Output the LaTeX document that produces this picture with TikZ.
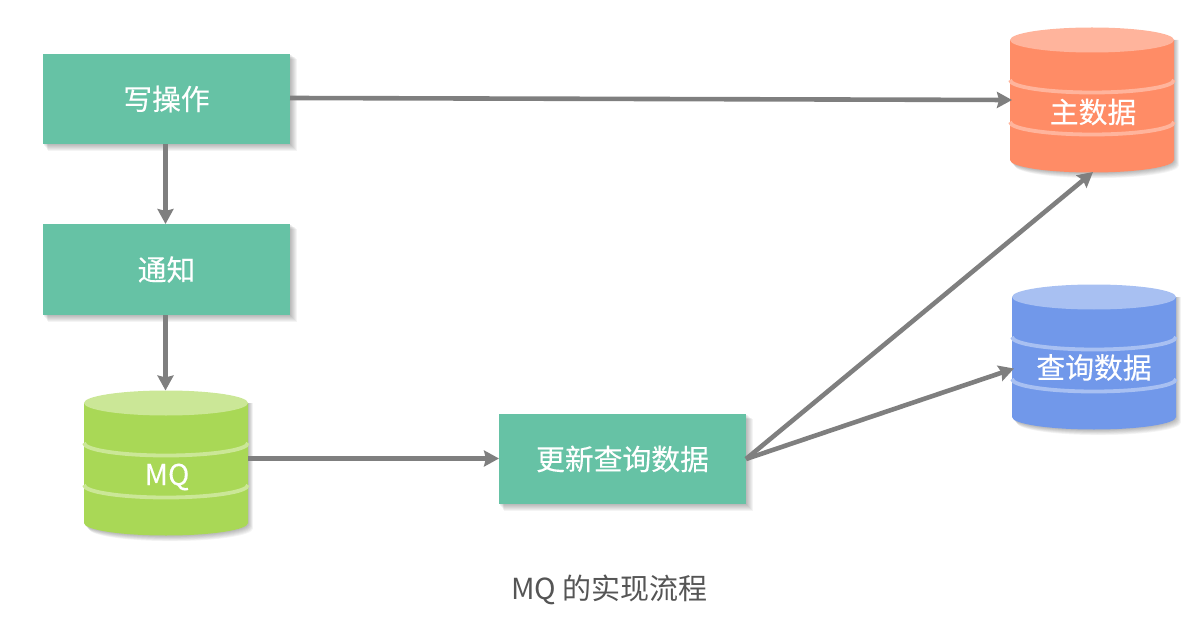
\documentclass[tikz,border=0pt]{standalone}
\usepackage{fontspec}
\setmainfont[FakeBold=0.25]{Noto Sans CJK SC}
\newfontfamily\captionfont{Noto Sans CJK SC}
\usetikzlibrary{arrows.meta}
\definecolor{boxgreen}{HTML}{66C2A5}
\definecolor{linegray}{HTML}{7F7F7F}
\definecolor{orangebody}{HTML}{FF8C66}
\definecolor{orangetop}{HTML}{FFB49C}
\definecolor{limebody}{HTML}{A9D856}
\definecolor{limetop}{HTML}{CBE797}
\definecolor{bluebody}{HTML}{7198EA}
\definecolor{bluetop}{HTML}{A8C0F2}
\definecolor{captiongray}{HTML}{555555}
\tikzset{
  labeltext/.style={text=white,font=\fontsize{28.8}{32}\selectfont,inner sep=0pt},
  flowbox/.style={rectangle,fill=boxgreen,minimum width=247pt,minimum height=90pt,labeltext},
  cylslot/.style={rectangle,minimum width=164pt,minimum height=145pt,inner sep=0pt,labeltext},
  flowline/.style={draw=linegray,line width=4.6pt,-{Stealth[length=15pt,width=16pt,inset=2pt]}},
  softshade/.style={black,opacity=0.045}
}
% shadow behind a rectangle: x0,y0,x1,y1
\newcommand{\boxshade}[4]{%
  \foreach \d in {0,1,2,3,4,5,6,7}{%
    \fill[softshade] (#1+\d*0.7,#2+\d*0.7) rectangle (#3+\d,#4+\d);}}
% cylinder: left x, ellipse centre y, body colour, top colour
\newcommand{\dbcyl}[4]{%
  \foreach \d in {1,2,3,4,5,6,7}{%
    \fill[softshade] (#1+\d*0.7,#2) -- (#1+\d*0.7,#2+120+\d*0.8) arc[start angle=180,end angle=0,x radius=82,y radius=12.5] -- (#1+164+\d*0.7,#2) -- cycle;}
  \fill[#3] (#1,#2) -- (#1,#2+120) arc[start angle=180,end angle=0,x radius=82,y radius=12.5] -- (#1+164,#2) -- cycle;
  \fill[#4] (#1+82,#2) ellipse[x radius=82,y radius=12.5];
  \foreach \o in {40,82}{%
    \draw[#4,line width=3.8pt] (#1,#2+\o) arc[start angle=180,end angle=0,x radius=82,y radius=12.5];}
}
\begin{document}
\begin{tikzpicture}[x=1pt,y=-1pt]
\useasboundingbox (0,0) rectangle (1204,620);
\boxshade{43}{54}{290}{144}
\boxshade{43}{224}{290}{315}
\boxshade{499}{414}{746}{504}
\dbcyl{1010}{40}{orangebody}{orangetop}
\dbcyl{84}{403}{limebody}{limetop}
\dbcyl{1012}{297}{bluebody}{bluetop}
\node[flowbox] (write) at (166.5,99) {写操作};
\node[flowbox,minimum height=91pt] (notify) at (166.5,269.5) {通知};
\node[flowbox] (update) at (622.5,459) {更新查询数据};
\node[cylslot] (master) at (1092,100) {};
\node[cylslot] (mq) at (166,462.5) {};
\node[cylslot] (query) at (1094,357.5) {};
\node[labeltext] (mastertext) at (1093,112) {主数据};
\node[labeltext] (mqtext) at (167,477) {MQ};
\node[labeltext] (querytext) at (1094,367.5) {查询数据};
\node[text=captiongray,font=\captionfont\fontsize{29}{32}\selectfont,inner sep=0pt] (caption) at (609.5,590) {MQ 的实现流程};
\coordinate (writeout) at (290,98);
\coordinate (writedown) at (165.5,144);
\coordinate (notifyin) at (165.5,224);
\coordinate (notifydown) at (165.5,315);
\coordinate (mqin) at (165.5,390.5);
\coordinate (mqout) at (248,458.5);
\coordinate (updatein) at (499,458.5);
\coordinate (updateout) at (746,459);
\coordinate (masterin) at (1012,100);
\coordinate (masterlow) at (1093,172);
\coordinate (queryin) at (1014,368.5);
\draw[flowline] (writeout) -- (masterin);
\draw[flowline] (writedown) -- (notifyin);
\draw[flowline] (notifydown) -- (mqin);
\draw[flowline] (mqout) -- (updatein);
\draw[flowline] (updateout) -- (masterlow);
\draw[flowline] (updateout) -- (queryin);
\end{tikzpicture}
\end{document}
